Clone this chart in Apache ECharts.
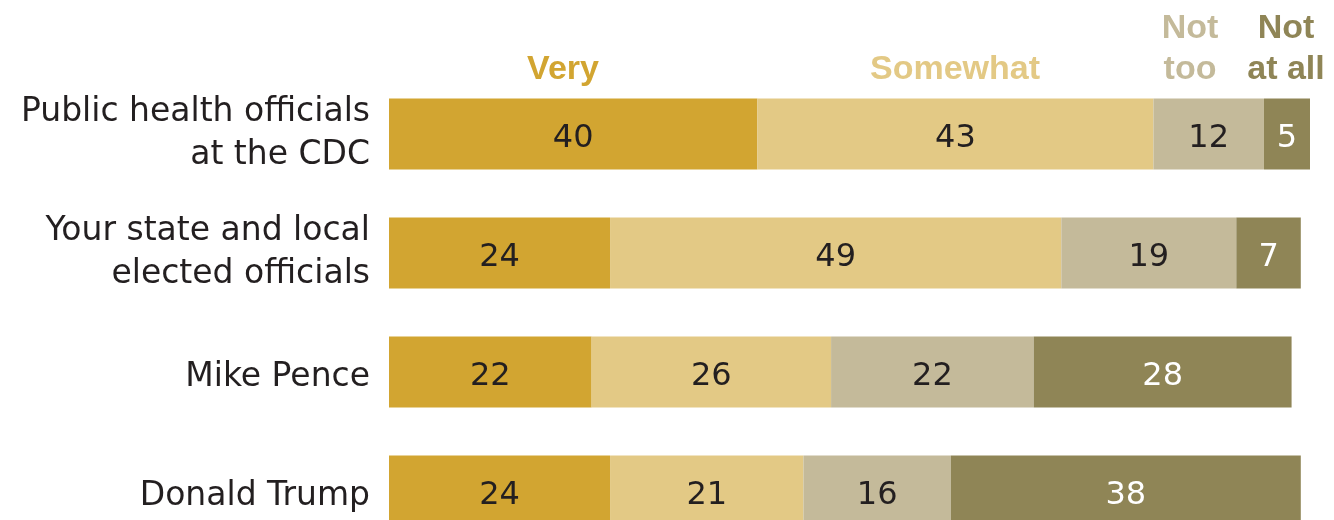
<!DOCTYPE html>
<html>
<head>
<meta charset="utf-8">
<script src="https://cdn.jsdelivr.net/npm/echarts@6/dist/echarts.min.js"></script>
<style>
html,body{margin:0;padding:0;background:#fff;}
#chart{width:1334px;height:520px;}
</style>
</head>
<body>
<div id="chart"></div>
<script>
const categories = ['Public health officials\nat the CDC', 'Your state and local\nelected officials', 'Mike Pence', 'Donald Trump'];
const seriesNames = ['Very', 'Somewhat', 'Not too', 'Not at all'];
const headerLabels = ['Very', 'Somewhat', 'Not\ntoo', 'Not\nat all'];
const very = [40, 24, 22, 24];
const somewhat = [43, 49, 26, 21];
const notToo = [12, 19, 22, 16];
const notAtAll = [5, 7, 28, 38];

const values = [very, somewhat, notToo, notAtAll];
const colors = ['#D2A531', '#E3C985', '#C4BA9A', '#8F8556'];
const labelColors = ['#231f20', '#231f20', '#231f20', '#ffffff'];
const headerX = [563, 955, 1190, 1286];

const chart = echarts.init(document.getElementById('chart'), null, {renderer: 'canvas'});

const series = seriesNames.map((name, i) => ({
  name: name,
  type: 'bar',
  stack: 'total',
  barWidth: 71,
  data: values[i],
  itemStyle: {color: colors[i]},
  label: {
    show: true,
    position: 'inside',
    offset: [0, 5],
    color: labelColors[i],
    fontFamily: 'DejaVu Sans',
    fontSize: 32,
    formatter: '{c}'
  },
  emphasis: {disabled: true},
  animation: false
}));

const graphic = headerLabels.map((t, i) => ({
  type: 'text',
  x: headerX[i],
  y: 90,
  style: {
    text: t,
    fill: colors[i],
    font: 'bold 34px "Liberation Sans", Arial, sans-serif',
    textAlign: 'center',
    textVerticalAlign: 'bottom',
    verticalAlign: 'bottom',
    lineHeight: 41
  }
}));

chart.setOption({
  animation: false,
  grid: {left: 389, right: 24, top: 74.5, bottom: -30.5, outerBoundsMode: 'none', containLabel: false},
  xAxis: {type: 'value', min: 0, max: 100, show: false},
  yAxis: {
    type: 'category',
    data: categories,
    inverse: true,
    axisLine: {show: false},
    axisTick: {show: false},
    splitLine: {show: false},
    axisLabel: {
      margin: 19,
      color: '#231f20',
      fontFamily: 'DejaVu Sans',
      fontSize: 33,
      lineHeight: 43,
      align: 'right',
      formatter: (v) => v.indexOf('\n') >= 0 ? v : '{s|' + v + '}',
      rich: {
        s: {
          color: '#231f20',
          fontFamily: 'DejaVu Sans',
          fontSize: 33,
          lineHeight: 43,
          padding: [10, 0, 0, 0]
        }
      }
    }
  },
  series: series,
  graphic: graphic
});
</script>
</body>
</html>
